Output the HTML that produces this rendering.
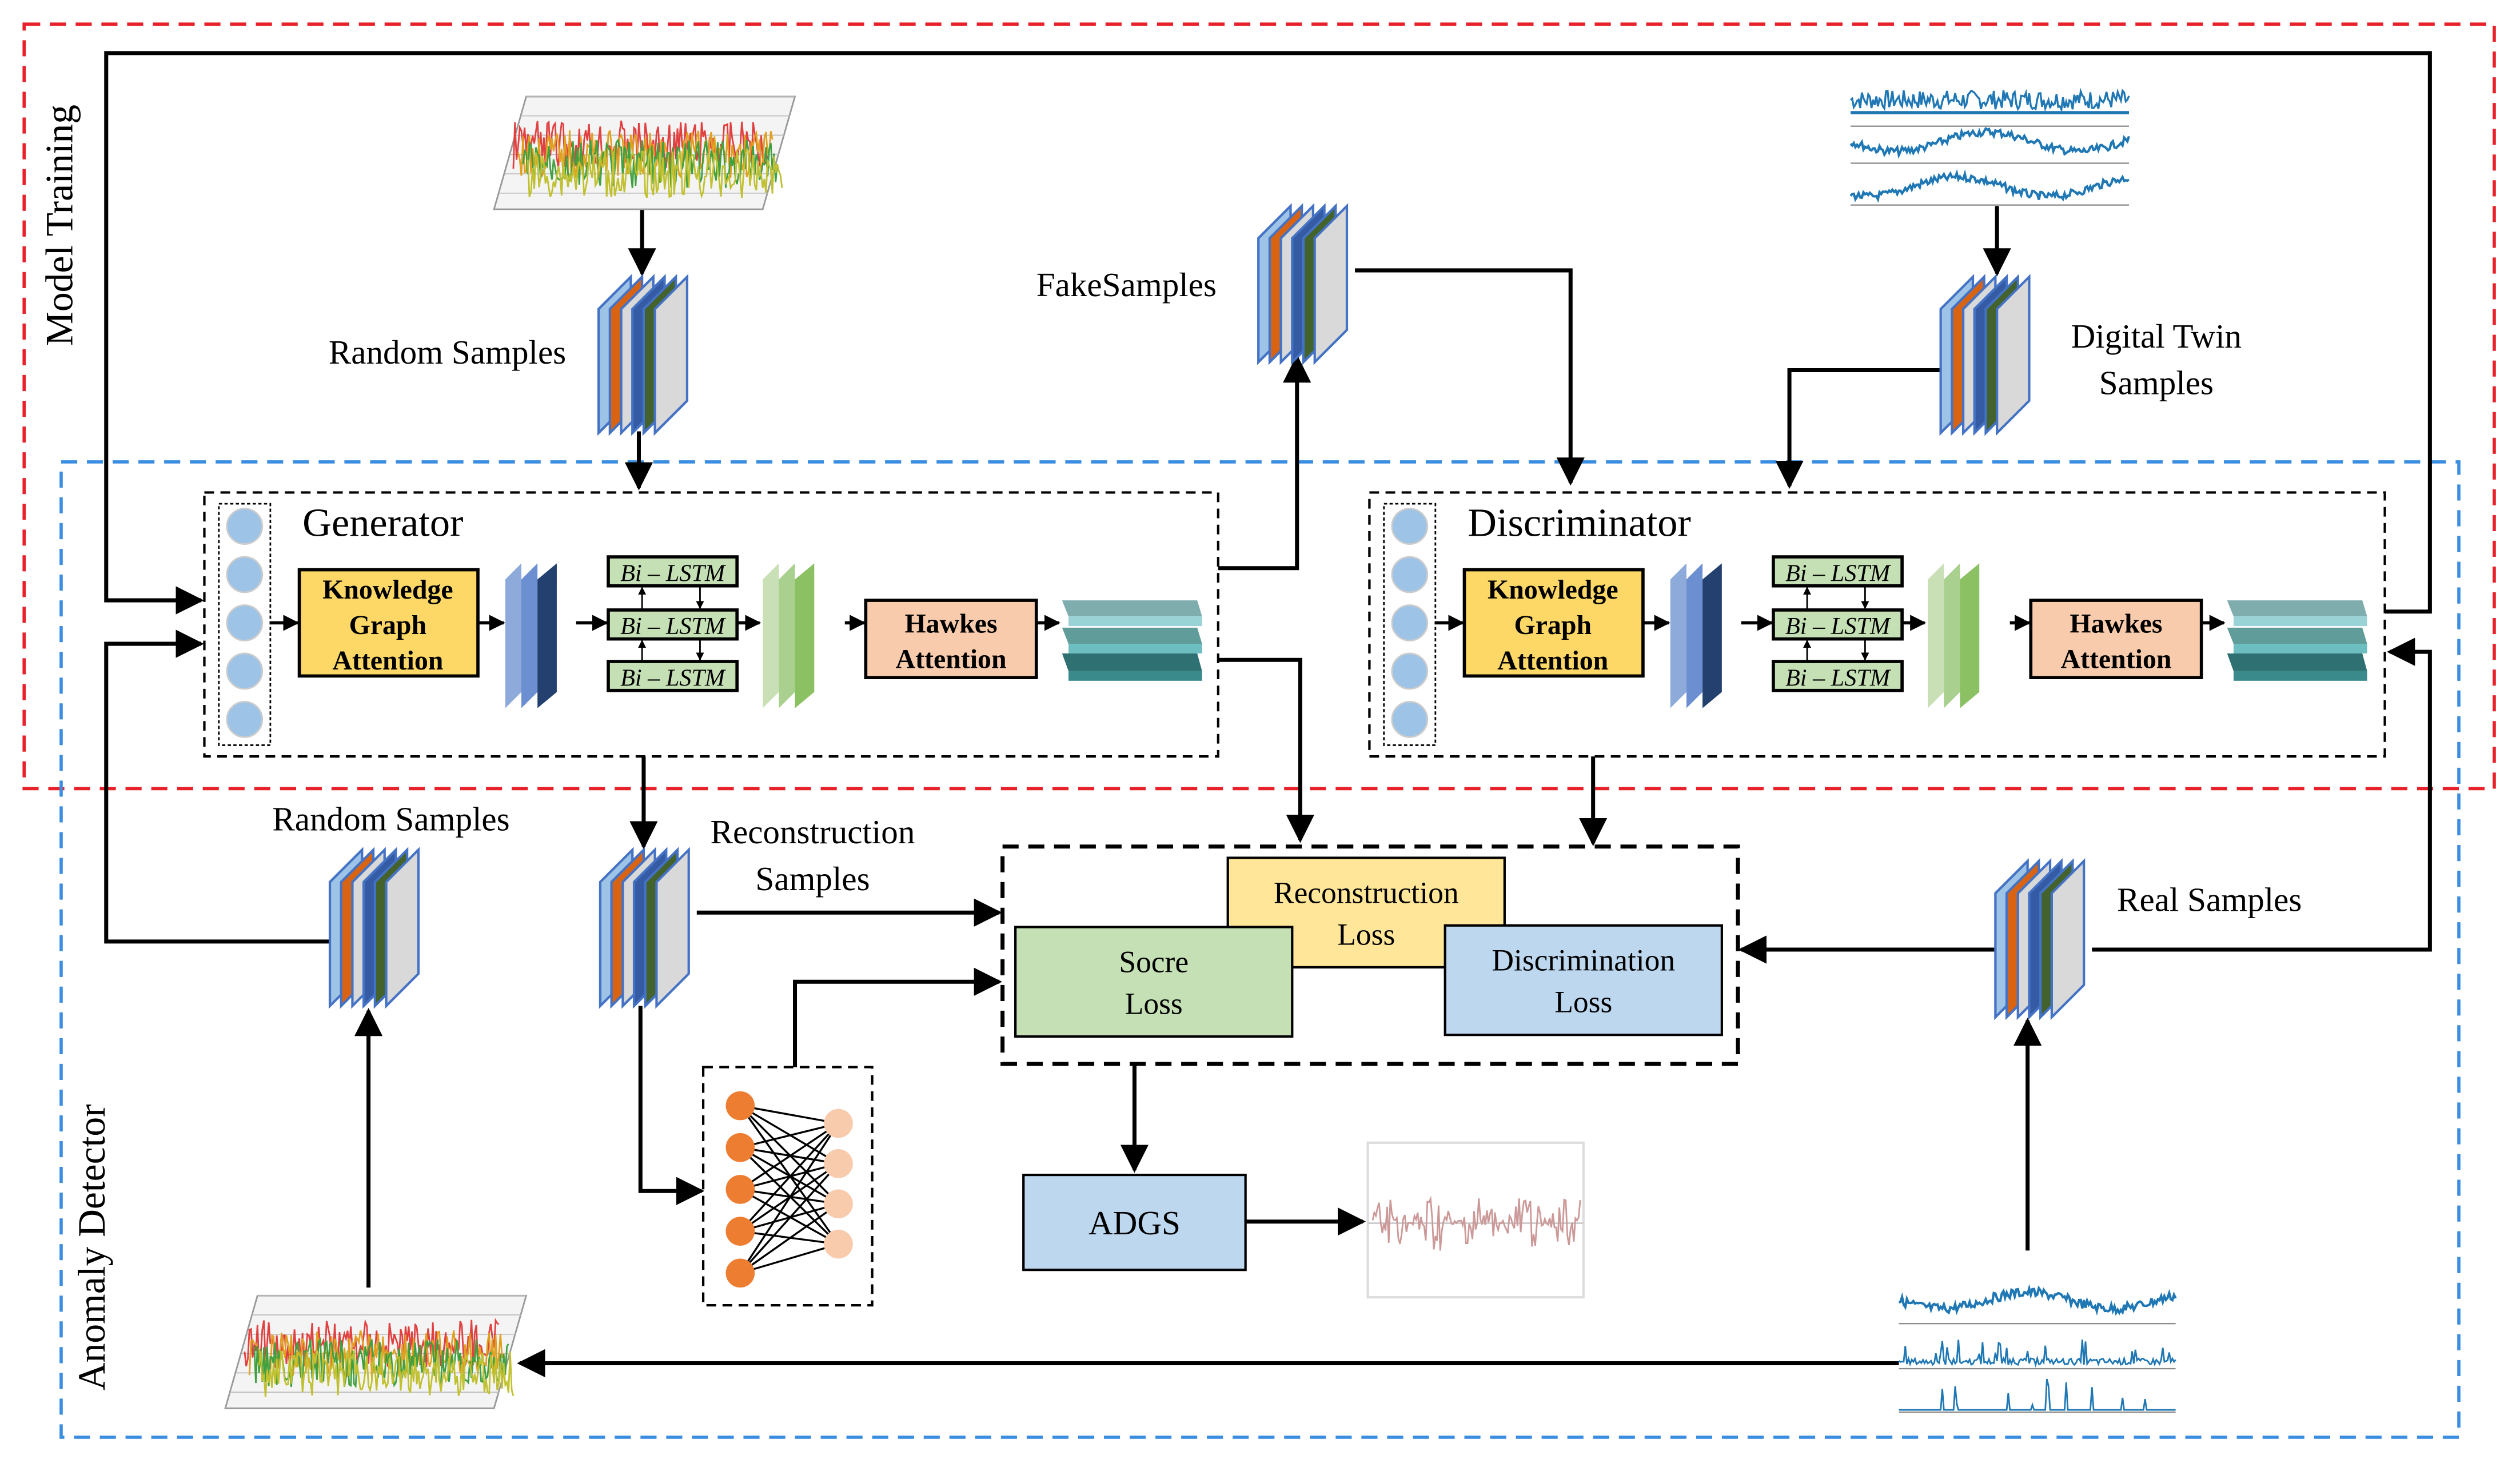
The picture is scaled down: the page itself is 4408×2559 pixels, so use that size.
<!DOCTYPE html>
<html><head><meta charset="utf-8"><style>html,body{margin:0;padding:0;background:#fff}svg{display:block}</style></head>
<body>
<svg id="s" xmlns="http://www.w3.org/2000/svg" width="4408" height="2559" viewBox="0 0 1566 909" preserveAspectRatio="none" font-family="'Liberation Serif',serif">
<defs>
<marker id="a" viewBox="0 0 10 10" refX="9" refY="5" markerWidth="5" markerHeight="5" orient="auto"><path d="M0,0L10,5L0,10z" fill="#000"/></marker>
<marker id="b" viewBox="0 0 10 10" refX="9" refY="5" markerWidth="7" markerHeight="7" orient="auto"><path d="M0,0L10,5L0,10z" fill="#000"/></marker>
<g id="stk" stroke="#4472c4" stroke-width="1.5">
<polygon points="0,20 20,0 20,77 0,97" fill="#9dc3e6"/>
<polygon points="7,20 27,0 27,77 7,97" fill="#d86413"/>
<polygon points="14,20 34,0 34,77 14,97" fill="#d9d9d9"/>
<polygon points="21,20 41,0 41,77 21,97" fill="#345ba4"/>
<polygon points="28,20 48,0 48,77 28,97" fill="#43622c"/>
<polygon points="35,20 55,0 55,77 35,97" fill="#d9d9d9"/>
</g>
<g id="blk">
<rect x="0" y="0" width="32" height="150" fill="none" stroke="#000" stroke-dasharray="2,1.5"/>
<circle cx="16" cy="14" r="11" fill="#9dc3e6" stroke="#ccc"/>
<circle cx="16" cy="44" r="11" fill="#9dc3e6" stroke="#ccc"/>
<circle cx="16" cy="74" r="11" fill="#9dc3e6" stroke="#ccc"/>
<circle cx="16" cy="104" r="11" fill="#9dc3e6" stroke="#ccc"/>
<circle cx="16" cy="134" r="11" fill="#9dc3e6" stroke="#ccc"/>
<g stroke="#000" stroke-width="2" marker-end="url(#a)">
<line x1="32" y1="74" x2="49" y2="74"/><line x1="161" y1="74" x2="177" y2="74"/>
<line x1="222" y1="74" x2="241" y2="74"/><line x1="322" y1="74" x2="336" y2="74"/>
<line x1="389" y1="74" x2="401" y2="74"/><line x1="508" y1="74" x2="522" y2="74"/>
</g>
<rect x="50" y="41" width="111" height="66" fill="#fdd866" stroke="#000" stroke-width="2"/>
<text x="105" y="59" font-size="17" font-weight="bold" text-anchor="middle">Knowledge</text>
<text x="105" y="81" font-size="17" font-weight="bold" text-anchor="middle">Graph</text>
<text x="105" y="103" font-size="17" font-weight="bold" text-anchor="middle">Attention</text>
<polygon points="178,47 188,37 188,117 178,127" fill="#8eaadb"/>
<polygon points="188,47 198,37 198,117 188,127" fill="#6b8fd0"/>
<polygon points="198,47 210,37 210,117 198,127" fill="#24406f"/>
<g fill="#c5e0b4" stroke="#000" stroke-width="2">
<rect x="242" y="33" width="80" height="18"/><rect x="242" y="66" width="80" height="18"/><rect x="242" y="98" width="80" height="18"/></g>
<g font-size="15" font-style="italic" text-anchor="middle"><text x="282" y="48">Bi – LSTM</text><text x="282" y="81">Bi – LSTM</text><text x="282" y="113">Bi – LSTM</text></g>
<g stroke="#000" stroke-width="1" marker-end="url(#a)">
<line x1="263" y1="66" x2="263" y2="52"/><line x1="299" y1="51" x2="299" y2="65"/>
<line x1="263" y1="98" x2="263" y2="85"/><line x1="299" y1="84" x2="299" y2="97"/></g>
<polygon points="338,47 348,37 348,117 338,127" fill="#c9e0b6"/>
<polygon points="348,47 358,37 358,117 348,127" fill="#a9d08e"/>
<polygon points="358,47 370,37 370,117 358,127" fill="#8bc063"/>
<rect x="402" y="60" width="106" height="48" fill="#f8cbad" stroke="#000" stroke-width="2"/>
<text x="455" y="80" font-size="17" font-weight="bold" text-anchor="middle">Hawkes</text>
<text x="455" y="102" font-size="17" font-weight="bold" text-anchor="middle">Attention</text>
<polygon points="524,60 608,60 611,70 528,70" fill="#7fadad"/><rect x="528" y="70" width="83" height="6" fill="#9ad3d6"/>
<polygon points="524,77 608,77 611,87 528,87" fill="#5f9c9a"/><rect x="528" y="87" width="83" height="6" fill="#6dbec1"/>
<polygon points="524,93 608,93 611,104 528,104" fill="#2f7073"/><rect x="528" y="104" width="83" height="6" fill="#3a8a8c"/>
</g>
</defs>
<rect x="15" y="15" width="1535" height="475" fill="none" stroke="#e8202a" stroke-width="2" stroke-dasharray="10,6"/>
<rect x="38" y="287" width="1490" height="606" fill="none" stroke="#3a8de0" stroke-width="2" stroke-dasharray="10,6"/>
<text transform="translate(45,140) rotate(-90)" font-size="24" text-anchor="middle">Model Training</text>
<text transform="translate(65,775) rotate(-90)" font-size="24" text-anchor="middle">Anomaly Detector</text>

<rect x="127" y="306" width="630" height="164" fill="none" stroke="#000" stroke-width="1.5" stroke-dasharray="6,4"/>
<rect x="851" y="306" width="631" height="164" fill="none" stroke="#000" stroke-width="1.5" stroke-dasharray="6,4"/>
<use href="#blk" x="136" y="313"/>
<use href="#blk" x="860" y="313"/>
<text x="188" y="333" font-size="25">Generator</text>
<text x="912" y="333" font-size="25">Discriminator</text>

<g stroke="#000" stroke-width="2.5" fill="none" marker-end="url(#b)">
<polyline points="1482,380 1510,380 1510,33 66,33 66,373 125,373"/>
<polyline points="205,585 66,585 66,400 125,400"/>
<polyline points="757,353 806,353 806,222"/>
<polyline points="842,168 976,168 976,300"/>
<line x1="1241" y1="128" x2="1241" y2="170"/>
<polyline points="1206,230 1112,230 1112,302"/>
<line x1="399" y1="130" x2="399" y2="170"/>
<line x1="397" y1="268" x2="397" y2="303"/>
<line x1="400" y1="470" x2="400" y2="526"/>
<polyline points="757,410 808,410 808,522"/>
<line x1="990" y1="470" x2="990" y2="524"/>
<line x1="433" y1="567" x2="621" y2="567"/>
<polyline points="494,663 494,610 621,610"/>
<polyline points="398,625 398,740 436,740"/>
<line x1="705" y1="661" x2="705" y2="727"/>
<line x1="774" y1="759" x2="847" y2="759"/>
<polyline points="1300,590 1510,590 1510,405 1485,405"/>
<line x1="1240" y1="590" x2="1082" y2="590"/>
<line x1="1260" y1="777" x2="1260" y2="634"/>
<line x1="1180" y1="847" x2="323" y2="847"/>
<line x1="229" y1="800" x2="229" y2="628"/>
</g>

<use href="#stk" x="372" y="172"/>
<use href="#stk" x="782" y="128"/>
<use href="#stk" x="1206" y="172"/>
<use href="#stk" x="373" y="528"/>
<use href="#stk" x="205" y="528"/>
<use href="#stk" x="1240" y="535"/>

<g font-size="21">
<text x="278" y="226" text-anchor="middle">Random Samples</text>
<text x="700" y="184" text-anchor="middle">FakeSamples</text>
<text x="1340" y="216" text-anchor="middle">Digital Twin</text>
<text x="1340" y="245" text-anchor="middle">Samples</text>
<text x="243" y="516" text-anchor="middle">Random Samples</text>
<text x="505" y="524" text-anchor="middle">Reconstruction</text>
<text x="505" y="553" text-anchor="middle">Samples</text>
<text x="1373" y="566" text-anchor="middle">Real Samples</text>
</g>

<rect x="623" y="526" width="457" height="135" fill="none" stroke="#000" stroke-width="2.5" stroke-dasharray="10,6"/>
<rect x="763" y="533" width="172" height="68" fill="#ffe699" stroke="#000" stroke-width="1.5"/>
<rect x="631" y="576" width="172" height="68" fill="#c5e0b4" stroke="#000" stroke-width="1.5"/>
<rect x="898" y="575" width="172" height="68" fill="#bdd7ee" stroke="#000" stroke-width="1.5"/>
<g font-size="19" text-anchor="middle">
<text x="849" y="561">Reconstruction</text><text x="849" y="587">Loss</text>
<text x="717" y="604">Socre</text><text x="717" y="630">Loss</text>
<text x="984" y="603">Discrimination</text><text x="984" y="629">Loss</text>
</g>
<rect x="636" y="730" width="138" height="59" fill="#bdd7ee" stroke="#000" stroke-width="1.5"/>
<text x="705" y="767" font-size="21" text-anchor="middle">ADGS</text>

<rect x="437" y="663" width="105" height="148" fill="none" stroke="#000" stroke-width="1.5" stroke-dasharray="6,4"/>
<g id="nn"></g>

<rect x="850" y="710" width="134" height="96" fill="none" stroke="#ddd" stroke-width="1.5"/>
<line x1="850" y1="760" x2="984" y2="760" stroke="#ccc"/>
<g id="sig"></g>
</svg>
<script>
var NS="http://www.w3.org/2000/svg",s=document.getElementById("sig"),nn=document.getElementById("nn");
function el(t,a,p){var e=document.createElementNS(NS,t);for(var k in a)e.setAttribute(k,a[k]);(p||s).appendChild(e);return e;}
var seed=7;function r(){seed=(seed*9301+49297)%233280;return seed/233280;}
var L=[687,713,739,765,791],R=[698,723,748,773];
L.forEach(function(a){R.forEach(function(b){el("line",{x1:460,y1:a,x2:521,y2:b,stroke:"#000","stroke-width":1.2},nn);});});
L.forEach(function(a){el("circle",{cx:460,cy:a,r:9,fill:"#ed7d31"},nn);});
R.forEach(function(b){el("circle",{cx:521,cy:b,r:9,fill:"#f8cbad"},nn);});
function line(x0,x1,y,f,col,w){var p=[];for(var x=x0;x<=x1;x+=1){p.push(x+","+(y+f(x)).toFixed(1));}el("polyline",{points:p.join(" "),fill:"none",stroke:col,"stroke-width":w||1});}
line(1150,1323,68,function(){return -r()*12;},"#1f77b4",1.2);
el("line",{x1:1150,y1:70,x2:1323,y2:70,stroke:"#1f77b4","stroke-width":2});
line(1150,1323,88,function(x){return 6*Math.sin((x-1150)/18)+(r()-.5)*5;},"#1f77b4",1.5);
line(1150,1323,116,function(x){return 6*Math.sin((x-1150)/18+1)+(r()-.5)*5;},"#1f77b4",1.5);
el("rect",{x:1150,y:78,width:173,height:0.8,fill:"#888"});el("rect",{x:1150,y:101,width:173,height:0.8,fill:"#888"});el("rect",{x:1150,y:127,width:173,height:0.8,fill:"#888"});
line(1180,1352,808,function(x){return 5*Math.sin((x-1180)/17)+(r()-.5)*6;},"#1f77b4",1.5);
line(1180,1352,848,function(){var v=r();return v>0.85?-r()*16:-r()*4;},"#1f77b4",1);
line(1180,1352,876,function(){var v=r();return v>0.93?-r()*20:0;},"#1f77b4",1);
el("rect",{x:1180,y:822,width:172,height:0.8,fill:"#888"});el("rect",{x:1180,y:850,width:172,height:0.8,fill:"#888"});el("rect",{x:1180,y:877,width:172,height:0.8,fill:"#888"});
line(853,982,760,function(x){return (r()-.5)*40*Math.abs(Math.sin(x/9));},"#c99",1);
function plot3(x,y){el("polygon",{points:(x+20)+","+y+" "+(x+187)+","+y+" "+(x+167)+","+(y+70)+" "+x+","+(y+70),fill:"#f4f4f4",stroke:"#999"});
for(var i=0;i<6;i++)el("line",{x1:x+20-i*3.3,y1:y+i*12,x2:x+187-i*3.3,y2:y+i*12,stroke:"#bbb","stroke-width":.6});
var c=["#e04040","#e0a020","#40a040","#c0c030"];for(var k=0;k<4;k++){line(x+12+k*3,x+170+k*3,y+30+k*6,function(){return (r()-.5)*30;},c[k],1);}}
plot3(307,60);plot3(140,805);
</script>
</body></html>
